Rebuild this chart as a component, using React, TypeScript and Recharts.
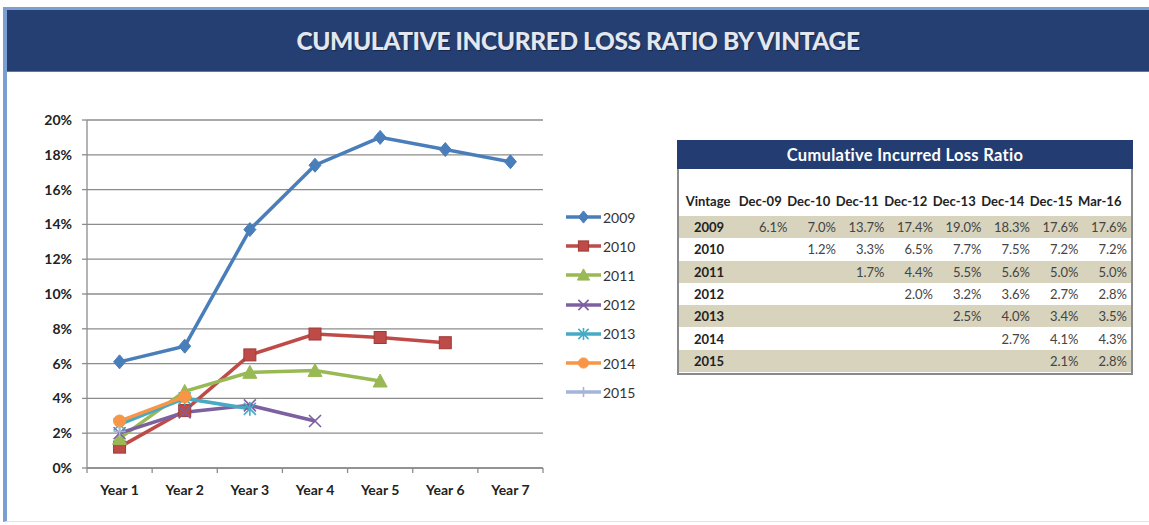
import React from "react";
import { LineChart, Line, XAxis, YAxis, CartesianGrid } from "recharts";

// x-axis categories (years since vintage)
const years = ["Year 1", "Year 2", "Year 3", "Year 4", "Year 5", "Year 6", "Year 7"];
// table columns (reporting dates)
const periods = ["Dec-09", "Dec-10", "Dec-11", "Dec-12", "Dec-13", "Dec-14", "Dec-15", "Mar-16"];
const vintages = ["2009", "2010", "2011", "2012", "2013", "2014", "2015"];

// cumulative incurred loss ratio (%) by vintage, one value per period
const lr2009 = [6.1, 7.0, 13.7, 17.4, 19.0, 18.3, 17.6, 17.6];
const lr2010 = [null, 1.2, 3.3, 6.5, 7.7, 7.5, 7.2, 7.2];
const lr2011 = [null, null, 1.7, 4.4, 5.5, 5.6, 5.0, 5.0];
const lr2012 = [null, null, null, 2.0, 3.2, 3.6, 2.7, 2.8];
const lr2013 = [null, null, null, null, 2.5, 4.0, 3.4, 3.5];
const lr2014 = [null, null, null, null, null, 2.7, 4.1, 4.3];
const lr2015 = [null, null, null, null, null, null, 2.1, 2.8];

const rows: (number | null)[][] = [lr2009, lr2010, lr2011, lr2012, lr2013, lr2014, lr2015];

const colors = ["#4a7ebb", "#be4b48", "#98b954", "#7d60a0", "#46aac5", "#f79646", "#a3b5d9"];
const markers = ["diamond", "square", "triangle", "x", "star", "circle", "plus"];

// chart uses the December snapshots, counted from each vintage's first year
const chartData = years.map((y, i) => {
  const row: any = { name: y };
  rows.forEach((r, k) => {
    const decs = r.slice(0, 7).filter((v) => v !== null) as number[];
    row[vintages[k]] = i < decs.length ? decs[i] / 100 : null;
  });
  return row;
});

const FONT = "Lato, 'Open Sans', sans-serif";

const Marker = ({ kind, cx, cy, color, s = 1 }: any) => {
  const d = 6 * s;
  switch (kind) {
    case "diamond":
      return <polygon points={`${cx},${cy - d - 1} ${cx + d},${cy} ${cx},${cy + d + 1} ${cx - d},${cy}`} fill={color} stroke={color} />;
    case "square":
      return <rect x={cx - d} y={cy - d} width={d * 2} height={d * 2} fill={color} stroke="#9e3a37" strokeWidth={1} />;
    case "triangle":
      return <polygon points={`${cx},${cy - d - 1} ${cx + d + 1},${cy + d} ${cx - d - 1},${cy + d}`} fill={color} stroke={color} />;
    case "x":
      return (
        <g stroke={color} strokeWidth={1.6}>
          <line x1={cx - d} y1={cy - d} x2={cx + d} y2={cy + d} />
          <line x1={cx - d} y1={cy + d} x2={cx + d} y2={cy - d} />
        </g>
      );
    case "star":
      return (
        <g stroke={color} strokeWidth={1.6}>
          <line x1={cx - d} y1={cy - d} x2={cx + d} y2={cy + d} />
          <line x1={cx - d} y1={cy + d} x2={cx + d} y2={cy - d} />
          <line x1={cx} y1={cy - d - 1} x2={cx} y2={cy + d + 1} />
        </g>
      );
    case "circle":
      return <circle cx={cx} cy={cy} r={d} fill={color} stroke={color} />;
    default:
      return (
        <g stroke={color} strokeWidth={1.6}>
          <line x1={cx} y1={cy - d} x2={cx} y2={cy + d} />
          <line x1={cx - d} y1={cy} x2={cx + d} y2={cy} />
        </g>
      );
  }
};

const makeDot = (k: number) => (p: any) => {
  if (p.value === null || p.value === undefined || p.cy == null) return <g key={p.key} />;
  return (
    <g key={p.key}>
      <Marker kind={markers[k]} cx={p.cx} cy={p.cy} color={colors[k]} />
    </g>
  );
};

const PLOT_W = 456;
const BAND = PLOT_W / years.length;

const YearTick = (p: any) => {
  const { x, y, payload, index } = p;
  return (
    <g>
      <line x1={x - BAND / 2} y1={y} x2={x - BAND / 2} y2={y + 5} stroke="#8c8c8c" strokeWidth={1.3} />
      {index === years.length - 1 && (
        <line x1={x + BAND / 2} y1={y} x2={x + BAND / 2} y2={y + 5} stroke="#8c8c8c" strokeWidth={1.3} />
      )}
      <text x={x} y={y + 27} textAnchor="middle" fontFamily={FONT} fontWeight={700} fontSize={14} fill="#222">
        {payload.value}
      </text>
    </g>
  );
};

const colLeft = [677, 739];
const COLW = 48.5;

export default function App() {
  return (
    <div style={{ position: "absolute", left: 0, top: 0, width: 1149, height: 525, background: "#fff", overflow: "hidden", fontFamily: FONT }}>
      {/* frame */}
      <div style={{ position: "absolute", left: 3, top: 7, width: 1146, height: 515, borderLeft: "4px solid #7c9fd3", borderTop: "3px solid #7c9fd3", borderBottom: "1px solid #dbe5f1", boxSizing: "border-box" }} />
      <div style={{ position: "absolute", left: 7, top: 10, width: 1142, height: 61, background: "#263f73", borderBottom: "1px solid #5a78aa", display: "flex", alignItems: "center", justifyContent: "center" }}>
        <span style={{ color: "#e3e7ef", fontFamily: FONT, fontWeight: 900, fontSize: 24.5, letterSpacing: -0.4, textShadow: "1px 1px 1px #152544" }}>
          CUMULATIVE INCURRED LOSS RATIO BY VINTAGE
        </span>
      </div>

      <div style={{ position: "absolute", left: 0, top: 100 }}>
        <LineChart width={560} height={410} data={chartData} margin={{ top: 20, right: 17, bottom: 12, left: 27 }}>
          <CartesianGrid vertical={false} stroke="#8c8c8c" strokeWidth={1.3} />
          <XAxis
            dataKey="name"
            height={30}
            padding={{ left: BAND / 2, right: BAND / 2 }}
            tickLine={false}
            tickSize={0}
            tickMargin={0}
            axisLine={{ stroke: "#8c8c8c", strokeWidth: 1.3 }}
            tick={<YearTick />}
            interval={0}
          />
          <YAxis
            width={60}
            domain={[0, 0.2]}
            ticks={[0, 0.02, 0.04, 0.06, 0.08, 0.1, 0.12, 0.14, 0.16, 0.18, 0.2]}
            tickFormatter={(v: number) => `${Math.round(v * 100)}%`}
            tickSize={5}
            tickMargin={10}
            tickLine={{ stroke: "#8c8c8c", strokeWidth: 1.3 }}
            axisLine={{ stroke: "#8c8c8c", strokeWidth: 1.3 }}
            tick={{ fontFamily: FONT, fontWeight: 700, fontSize: 14, fill: "#222" }}
            interval={0}
          />
          {vintages.map((v, k) => (
            <Line
              key={v}
              dataKey={v}
              stroke={colors[k]}
              strokeWidth={3.5}
              dot={makeDot(k)}
              activeDot={false}
              connectNulls={false}
              isAnimationActive={false}
            />
          ))}
        </LineChart>
      </div>

      {/* legend */}
      {vintages.map((v, k) => (
        <div key={v} style={{ position: "absolute", left: 565, top: 207 + k * 29.2, height: 20, display: "flex", alignItems: "center" }}>
          <svg width={37} height={20}>
            <line x1={1} y1={10} x2={36} y2={10} stroke={colors[k]} strokeWidth={3.5} />
            <Marker kind={markers[k]} cx={18.5} cy={10} color={colors[k]} s={0.85} />
          </svg>
          <span style={{ fontSize: 14, color: "#333", marginLeft: 1 }}>{v}</span>
        </div>
      ))}

      {/* table */}
      <div style={{ position: "absolute", left: 677, top: 140, width: 452, height: 233, border: "2px solid #8a8a8a", borderTop: "none", boxSizing: "content-box" }} />
      <div style={{ position: "absolute", left: 677, top: 140, width: 456, height: 29, background: "#233d72", display: "flex", alignItems: "center", justifyContent: "center", color: "#fff", fontWeight: 700, fontSize: 16.5, letterSpacing: 0.3 }}>
        Cumulative Incurred Loss Ratio
      </div>
      <div style={{ position: "absolute", left: colLeft[0], top: 193, width: 62, textAlign: "center", fontSize: 13, fontWeight: 700, color: "#222" }}>Vintage</div>
      {periods.map((p, j) => (
        <div key={p} style={{ position: "absolute", left: colLeft[1] + j * COLW - 3, top: 193, width: COLW, textAlign: "center", fontSize: 13, fontWeight: 700, color: "#222" }}>
          {p}
        </div>
      ))}
      {rows.map((r, i) => (
        <div key={vintages[i]} style={{ position: "absolute", left: 679, top: 216 + i * 22.3, width: 452, height: 22.3, background: i % 2 === 0 ? "#d7d3bd" : "#fff" }}>
          <div style={{ position: "absolute", left: 0, top: 3, width: 60, textAlign: "center", fontSize: 13, fontWeight: 700, color: "#222" }}>{vintages[i]}</div>
          {r.map((val, j) =>
            val === null ? null : (
              <div key={j} style={{ position: "absolute", left: colLeft[1] - 679 + j * COLW, top: 3, width: COLW, textAlign: "right", fontSize: 13, color: "#444" }}>
                {val.toFixed(1)}%
              </div>
            )
          )}
        </div>
      ))}
    </div>
  );
}
